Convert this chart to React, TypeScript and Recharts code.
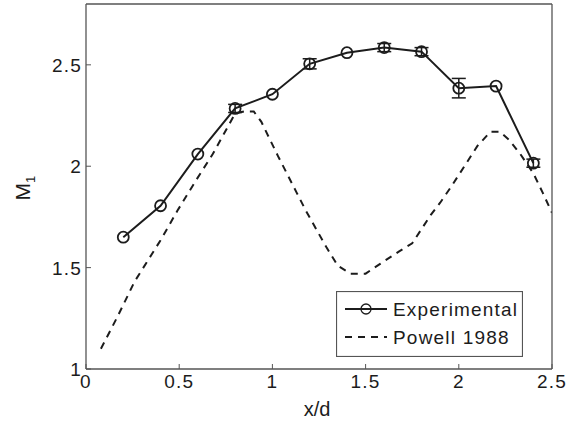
import { LineChart, Line, XAxis, YAxis, ErrorBar, Legend, Label } from 'recharts';

// measured points (x/d vs M1)
const expX = [0.2, 0.4, 0.6, 0.8, 1.0, 1.2, 1.4, 1.6, 1.8, 2.0, 2.2, 2.4];
const expM = [1.65, 1.805, 2.06, 2.285, 2.355, 2.505, 2.56, 2.585, 2.565, 2.385, 2.395, 2.015];
const expErr = [0, 0, 0, 0.02, 0, 0.025, 0, 0.02, 0.02, 0.048, 0, 0.02];

// Powell 1988 prediction
const powellX = [0.08, 0.17, 0.26, 0.4, 0.49, 0.59, 0.68, 0.8, 0.85, 0.9, 0.94, 1.03, 1.13, 1.18, 1.29, 1.35, 1.42, 1.5, 1.58, 1.68, 1.75, 1.8, 1.85, 1.9, 1.96, 2.03, 2.1, 2.17, 2.22, 2.27, 2.33, 2.4, 2.45, 2.5];
const powellM = [1.1, 1.26, 1.43, 1.635, 1.78, 1.93, 2.06, 2.26, 2.27, 2.27, 2.22, 2.05, 1.87, 1.78, 1.6, 1.51, 1.47, 1.47, 1.52, 1.58, 1.62, 1.69, 1.76, 1.82, 1.9, 2.0, 2.1, 2.17, 2.17, 2.13, 2.06, 1.965, 1.87, 1.77];

const xTicks = [0, 0.5, 1, 1.5, 2, 2.5];
const yTicks = [1, 1.5, 2, 2.5];

const expData = expX.map((x, i) => ({ x, m: expM[i], err: expErr[i] }));
const powellData = powellX.map((x, i) => ({ x, m: powellM[i] }));

const ink = '#1c1c1c';
const axisInk = '#555';
const font = '"Liberation Sans", Arial, sans-serif';
const TM = 4;
const TICK = 5;

const BottomTick = (p: any) => {
  const ay = p.y - TM;
  return (
    <g>
      <line x1={p.x} x2={p.x} y1={ay} y2={ay - TICK} stroke={axisInk} />
      <text x={p.x} y={ay + 19} textAnchor="middle" fontSize={19} letterSpacing={1.2} fill={ink} fontFamily={font}>
        {p.payload.value}
      </text>
    </g>
  );
};

const LeftTick = (p: any) => {
  const ax = p.x + TM;
  return (
    <g>
      <line x1={ax} x2={ax + TICK} y1={p.y} y2={p.y} stroke={axisInk} />
      <text x={ax - 4} y={p.y + 7} textAnchor="end" fontSize={19} letterSpacing={1.2} fill={ink} fontFamily={font}>
        {p.payload.value}
      </text>
    </g>
  );
};

const TopTick = (p: any) => {
  const ay = p.y + TM;
  return <line x1={p.x} x2={p.x} y1={ay} y2={ay + TICK} stroke={axisInk} />;
};

const RightTick = (p: any) => {
  const ax = p.x - TM;
  return <line x1={ax} x2={ax - TICK} y1={p.y} y2={p.y} stroke={axisInk} />;
};

const LegendBox = () => (
  <svg width={187} height={66} style={{ display: 'block' }}>
    <rect x={0.5} y={0.5} width={186} height={65} fill="#fff" stroke={axisInk} strokeWidth={1.2} />
    <line x1={9} x2={51} y1={18} y2={18} stroke={ink} strokeWidth={2} />
    <circle cx={30} cy={18} r={5} fill="none" stroke={ink} strokeWidth={1.3} />
    <text x={57} y={25} fontSize={19} letterSpacing={1.2} fill={ink} fontFamily={font}>Experimental</text>
    <line x1={9} x2={51} y1={46} y2={46} stroke={ink} strokeWidth={2} strokeDasharray="7 6" />
    <text x={57} y={53} fontSize={19} letterSpacing={1.2} fill={ink} fontFamily={font}>Powell 1988</text>
  </svg>
);

export default function App() {
  return (
    <div style={{ position: 'absolute', left: 0, top: 0, width: 566, height: 425, background: '#fff' }}>
      <LineChart width={566} height={425} margin={{ top: 3, right: 13, bottom: 0, left: 0 }}>
        <XAxis
          dataKey="x"
          type="number"
          domain={[0, 2.5]}
          ticks={xTicks}
          height={56}
          tickSize={0}
          tickMargin={TM}
          tick={BottomTick}
          stroke={axisInk}
          strokeWidth={1.3}
          allowDataOverflow
        >
          <Label
            content={() => (
              <text x={317} y={416} textAnchor="middle" fontSize={20} fill={ink} fontFamily={font}>
                x/d
              </text>
            )}
          />
        </XAxis>
        <XAxis
          xAxisId="top"
          orientation="top"
          type="number"
          domain={[0, 2.5]}
          ticks={xTicks}
          height={1}
          tickSize={0}
          tickMargin={TM}
          tick={TopTick}
          stroke={axisInk}
          strokeWidth={1.3}
        />
        <YAxis
          type="number"
          domain={[1, 2.8]}
          ticks={yTicks}
          width={86}
          tickSize={0}
          tickMargin={TM}
          tick={LeftTick}
          stroke={axisInk}
          strokeWidth={1.3}
          allowDataOverflow
        >
          <Label
            content={() => (
              <text x={30} y={188} transform="rotate(-90 30 188)" textAnchor="middle" fontSize={21} fill={ink} fontFamily={font}>
                M<tspan dy={5} fontSize={13}>1</tspan>
              </text>
            )}
          />
        </YAxis>
        <YAxis
          yAxisId="right"
          orientation="right"
          type="number"
          domain={[1, 2.8]}
          ticks={yTicks}
          width={1}
          tickSize={0}
          tickMargin={TM}
          tick={RightTick}
          stroke={axisInk}
          strokeWidth={1.3}
        />
        <Line
          data={powellData}
          dataKey="m"
          name="Powell 1988"
          stroke={ink}
          strokeWidth={2}
          strokeDasharray="7 6"
          dot={false}
          type="linear"
          isAnimationActive={false}
        />
        <Line
          data={expData}
          dataKey="m"
          name="Experimental"
          stroke={ink}
          strokeWidth={2}
          dot={{ r: 5.5, fill: 'none', stroke: ink, strokeWidth: 1.8 }}
          type="linear"
          isAnimationActive={false}
        >
          <ErrorBar dataKey="err" width={7} stroke={ink} strokeWidth={1.5} direction="y" />
        </Line>
        <Legend
          layout="vertical"
          align="center"
          verticalAlign="middle"
          content={LegendBox}
          wrapperStyle={{ left: 336, top: 291, width: 187, height: 66 }}
        />
      </LineChart>
    </div>
  );
}
